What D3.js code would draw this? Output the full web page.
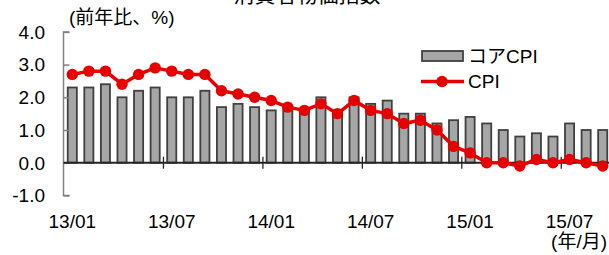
<!DOCTYPE html>
<html><head><meta charset="utf-8">
<script src="https://cdn.jsdelivr.net/npm/d3@7/dist/d3.min.js"></script>
<style>
html,body{margin:0;padding:0;background:#fff;overflow:hidden;}
text{font-family:"Liberation Sans",Arial,"Noto Sans CJK JP",sans-serif;fill:#000;}
</style></head>
<body>
<svg id="c" width="609" height="255"></svg>
<script>
const months = ["13/01","13/02","13/03","13/04","13/05","13/06","13/07","13/08","13/09","13/10","13/11","13/12",
"14/01","14/02","14/03","14/04","14/05","14/06","14/07","14/08","14/09","14/10","14/11","14/12",
"15/01","15/02","15/03","15/04","15/05","15/06","15/07","15/08","15/09"];
const coreCPI = [2.3,2.3,2.4,2.0,2.2,2.3,2.0,2.0,2.2,1.7,1.8,1.7,1.6,1.7,1.6,2.0,1.6,2.0,1.8,1.9,1.5,1.5,1.2,1.3,1.4,1.2,1.0,0.8,0.9,0.8,1.2,1.0,1.0];
const cpi = [2.7,2.8,2.8,2.4,2.7,2.9,2.8,2.7,2.7,2.2,2.1,2.0,1.9,1.7,1.6,1.8,1.5,1.9,1.6,1.5,1.2,1.3,1.0,0.5,0.3,0.0,0.0,-0.1,0.1,0.0,0.1,0.0,-0.1];
const xTickLabels = ["13/01","13/07","14/01","14/07","15/01","15/07"];
const yTicks = [-1.0,0.0,1.0,2.0,3.0,4.0];
const seriesNames = ["コアCPI","CPI"];
const title = "消費者物価指数";
const yUnit = "(前年比、%)";
const xUnit = "(年/月)";

const svg = d3.select("#c");
const x = d3.scaleBand().domain(months).range([64, 611]).paddingInner(0.45).paddingOuter(0.225);
const y = d3.scaleLinear().domain([-1, 4]).range([195.4, 31.9]);
const step = x.step(), bw = x.bandwidth();
const cx = m => x(m) + bw/2;
const edge = m => x(m) - (step - bw)/2;

// title (clipped at top)
svg.append("text").attr("x", 307).attr("y", 1.5).attr("text-anchor","middle")
  .style("font-size","21px").text(title);
// y unit
svg.append("text").attr("x", 69).attr("y", 24).style("font-size","19px").text(yUnit);

// bars
svg.append("g").selectAll("rect").data(months).join("rect")
  .attr("x", d => x(d)).attr("width", bw)
  .attr("y", (d,i) => y(Math.max(0, coreCPI[i])))
  .attr("height", (d,i) => Math.abs(y(coreCPI[i]) - y(0)))
  .attr("fill", "#a6a6a6").attr("stroke", "#404040").attr("stroke-width", 1.8);

// y axis
const ya = svg.append("g").attr("transform","translate(63.5,0)")
  .call(d3.axisRight(y).tickValues(yTicks).tickSize(6).tickFormat(""));
ya.select(".domain").attr("d", `M6,${y(4)}H0V${y(-1)}H6`).attr("stroke","#808080").attr("stroke-width",1.5);
ya.selectAll(".tick line").attr("stroke","#808080").attr("stroke-width",1.5);
svg.append("g").selectAll("text").data(yTicks).join("text")
  .attr("x", 45).attr("y", d => y(d)).attr("dy","0.36em").attr("text-anchor","end")
  .style("font-size","19px").text(d => d.toFixed(1));

// zero line
svg.append("line").attr("x1", 63.5).attr("x2", 611).attr("y1", y(0)).attr("y2", y(0))
  .attr("stroke","#262626").attr("stroke-width",2);
// x ticks at half-year boundaries
svg.append("g").selectAll("line").data(xTickLabels.slice(1)).join("line")
  .attr("x1", d => edge(d)).attr("x2", d => edge(d))
  .attr("y1", y(0)-6).attr("y2", y(0)+6).attr("stroke","#262626").attr("stroke-width",1.3);
// x labels
svg.append("g").selectAll("text").data(xTickLabels).join("text")
  .attr("x", d => cx(d)).attr("y", 221).attr("dy","0.36em").attr("text-anchor","middle")
  .style("font-size","19px").text(d => d);
svg.append("text").attr("x", 607).attr("y", 241).attr("dy","0.36em").attr("text-anchor","end")
  .style("font-size","19px").text(xUnit);

// CPI line
const line = d3.line().x((d,i) => cx(months[i])).y(d => y(d));
svg.append("path").datum(cpi).attr("d", line).attr("fill","none")
  .attr("stroke","#e60000").attr("stroke-width",3.5).attr("stroke-linejoin","round");
svg.append("g").selectAll("circle").data(cpi).join("circle")
  .attr("cx", (d,i) => cx(months[i])).attr("cy", d => y(d)).attr("r", 5.7).attr("fill","#e60000");

// legend
const lg = svg.append("g");
lg.append("rect").attr("x", 422).attr("y", 51).attr("width", 41).attr("height", 10)
  .attr("fill","#a6a6a6").attr("stroke","#404040").attr("stroke-width",1.8);
lg.append("text").attr("x", 468).attr("y", 56).attr("dy","0.36em").style("font-size","19px").text(seriesNames[0]);
lg.append("line").attr("x1", 421).attr("x2", 464).attr("y1", 81.5).attr("y2", 81.5)
  .attr("stroke","#e60000").attr("stroke-width",3.5);
lg.append("circle").attr("cx", 442).attr("cy", 81.5).attr("r", 5.7).attr("fill","#e60000");
lg.append("text").attr("x", 468).attr("y", 81.5).attr("dy","0.36em").style("font-size","19px").text(seriesNames[1]);
</script>
</body></html>
